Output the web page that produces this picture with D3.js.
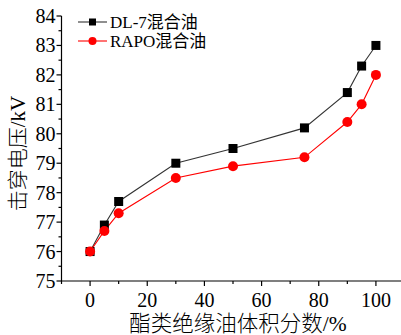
<!DOCTYPE html>
<html>
<head>
<meta charset="utf-8">
<script src="https://cdn.jsdelivr.net/npm/d3@7"></script>
<style>
  html, body { margin: 0; padding: 0; background: #fff; }
  svg { display: block; }
  text { font-family: "Liberation Serif", "Noto Sans CJK SC", serif; fill: #000; }
</style>
</head>
<body>
<svg id="chart" width="401" height="335"></svg>
<script>
// Breakdown voltage of ester/mineral oil blends vs. ester oil volume fraction
const fractions = [0, 5, 10, 30, 50, 75, 90, 95, 100];
const dl7Voltage = [76, 76.9, 77.7, 79, 79.5, 80.2, 81.4, 82.3, 83];
const rapoVoltage = [76, 76.7, 77.3, 78.5, 78.9, 79.2, 80.4, 81, 82];
const seriesNames = ["DL-7混合油", "RAPO混合油"];
const xTicks = [0, 20, 40, 60, 80, 100];
const yTicks = [75, 76, 77, 78, 79, 80, 81, 82, 83, 84];
const xTitle = "酯类绝缘油体积分数/%";
const yTitle = "击穿电压/kV";

const svg = d3.select("#chart");
const x = d3.scaleLinear().domain([-10, 110]).range([61.5, 404.5]);
const y = d3.scaleLinear().domain([75, 84]).range([281, 16]);

// Axes with outward major ticks and shorter minor ticks
const xMinor = d3.range(-10, 111, 10).filter(v => !xTicks.includes(v));
const yMinor = d3.range(75, 84.01, 0.5).filter(v => !yTicks.includes(v));

const gx = svg.append("g").attr("transform", `translate(0,${y(75)})`);
gx.append("line").attr("x1", x(-10)).attr("x2", x(110)).attr("stroke", "#000").attr("stroke-width", 1.2);
gx.selectAll(".maj").data(xTicks).join("line")
  .attr("x1", d => x(d)).attr("x2", d => x(d)).attr("y1", 0).attr("y2", 5)
  .attr("stroke", "#000").attr("stroke-width", 1.2);
gx.selectAll(".min").data(xMinor).join("line")
  .attr("x1", d => x(d)).attr("x2", d => x(d)).attr("y1", 0).attr("y2", 3)
  .attr("stroke", "#000").attr("stroke-width", 1.2);
gx.selectAll("text").data(xTicks).join("text")
  .attr("x", d => x(d)).attr("y", 26).attr("text-anchor", "middle")
  .attr("font-size", 20).text(d => d);

const gy = svg.append("g").attr("transform", `translate(${x(-10)},0)`);
gy.append("line").attr("y1", y(75)).attr("y2", y(84)).attr("stroke", "#000").attr("stroke-width", 1.2);
gy.selectAll(".maj").data(yTicks).join("line")
  .attr("y1", d => y(d)).attr("y2", d => y(d)).attr("x1", 0).attr("x2", -5)
  .attr("stroke", "#000").attr("stroke-width", 1.2);
gy.selectAll(".min").data(yMinor).join("line")
  .attr("y1", d => y(d)).attr("y2", d => y(d)).attr("x1", 0).attr("x2", -3)
  .attr("stroke", "#000").attr("stroke-width", 1.2);
gy.selectAll("text").data(yTicks).join("text")
  .attr("x", -6).attr("y", d => y(d) + 7).attr("text-anchor", "end")
  .attr("font-size", 20).text(d => d);

// Axis titles
svg.append("text").attr("x", 238).attr("y", 331)
  .attr("text-anchor", "middle").attr("font-size", 21.5).attr("font-weight", 300).text(xTitle);
svg.append("text")
  .attr("transform", `translate(25,${(y(75) + y(84)) / 2 + 5}) rotate(-90)`)
  .attr("text-anchor", "middle").attr("font-size", 21).attr("font-weight", 300).text(yTitle);

// Data series
const line = d3.line().x(d => x(d[0])).y(d => y(d[1]));
const series = [
  { name: seriesNames[0], values: dl7Voltage, color: "#000", lineColor: "#333", marker: "square" },
  { name: seriesNames[1], values: rapoVoltage, color: "#ff0000", lineColor: "#ff0000", marker: "circle" }
];

function drawMarker(g, s, cx, cy) {
  if (s.marker === "square") {
    g.append("rect").attr("x", cx - 4.5).attr("y", cy - 4.5).attr("width", 9).attr("height", 9)
      .attr("fill", s.color);
  } else {
    g.append("circle").attr("cx", cx).attr("cy", cy).attr("r", 5).attr("fill", s.color);
  }
}

series.forEach(s => {
  const pts = fractions.map((f, i) => [f, s.values[i]]);
  svg.append("path").datum(pts).attr("d", line)
    .attr("fill", "none").attr("stroke", s.lineColor).attr("stroke-width", 1.1);
});
// RAPO drawn last so its markers overlap at the shared start point
[series[0], series[1]].forEach(s => {
  const g = svg.append("g");
  fractions.forEach((f, i) => drawMarker(g, s, x(f), y(s.values[i])));
});

// Legend
const legend = svg.append("g");
series.forEach((s, i) => {
  const ly = 22 + i * 19;
  legend.append("line").attr("x1", 78).attr("x2", 107).attr("y1", ly).attr("y2", ly)
    .attr("stroke", s.lineColor).attr("stroke-width", 1.1);
  if (s.marker === "square") {
    legend.append("rect").attr("x", 92.5 - 3.5).attr("y", ly - 3.5).attr("width", 7).attr("height", 7).attr("fill", s.color);
  } else {
    legend.append("circle").attr("cx", 92.5).attr("cy", ly).attr("r", 4).attr("fill", s.color);
  }
  legend.append("text").attr("x", 110).attr("y", ly + 6).attr("font-size", 17).text(s.name);
});
</script>
</body>
</html>
